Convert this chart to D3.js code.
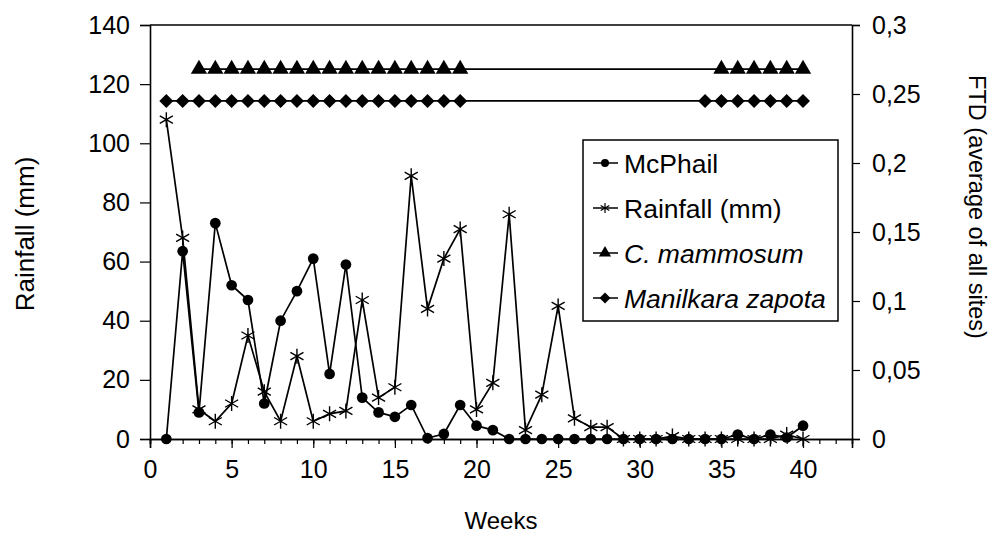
<!DOCTYPE html>
<html>
<head>
<meta charset="utf-8">
<script src="https://cdn.jsdelivr.net/npm/d3@7"></script>
<style>
  body { margin: 0; background: #fff; }
  text { font-family: "Liberation Sans", Arial, sans-serif; fill: #000; }
</style>
</head>
<body>
<svg class="chart" width="997" height="533"></svg>
<script>
// Weeks 1..40
var weeks = d3.range(1, 41);

// Rainfall (mm).
var rainfall = [108, 68, 10, 6, 12, 35, 16, 6, 28, 6,
                8.5, 9.5, 47, 14, 17.5, 89, 44, 61, 71, 10,
                19, 76, 3, 15, 45, 7, 4, 4, 0, 0,
                0, 1, 0, 0, 0, 0, 0, 0, 1.5, 0];

// McPhail trap counts (plotted on the left axis).
var mcphail = [0, 63.5, 9, 73, 52, 47, 12, 40, 50, 61,
               22, 59, 14, 9, 7.5, 11.5, 0.3, 1.7, 11.5, 4.5,
               3, 0, 0, 0, 0, 0, 0, 0, 0, 0,
               0, 0, 0, 0, 0, 1.5, 0, 1.5, 0.5, 4.5];

// FTD (right axis): weeks where each host was sampled.
var mammosumWeeks = d3.range(3, 20).concat(d3.range(35, 41));
var mammosumFTD = 0.268;
var zapotaWeeks = d3.range(1, 20).concat(d3.range(34, 41));
var zapotaFTD = 0.245;

var xTicks = [0, 5, 10, 15, 20, 25, 30, 35, 40];
var leftTicks = [0, 20, 40, 60, 80, 100, 120, 140];
var rightTicks = [0, 0.05, 0.1, 0.15, 0.2, 0.25, 0.3];

// Plot area, in pixels.
var plotLeft = 150, plotRight = 852, plotTop = 25, plotBottom = 439;
var tickFont = 25;

var svg = d3.select(".chart");

var x = d3.scaleLinear().domain([0, 43]).range([plotLeft, plotRight]);
var yL = d3.scaleLinear().domain([0, 140]).range([plotBottom, plotTop]);
var yR = d3.scaleLinear().domain([0, 0.3]).range([plotBottom, plotTop]);

// Frame: top border.
svg.append("line")
    .attr("x1", plotLeft).attr("x2", plotRight)
    .attr("y1", plotTop).attr("y2", plotTop)
    .attr("stroke", "#000").attr("stroke-width", 1.5);

// Left axis.
svg.append("g")
    .attr("transform", "translate(" + plotLeft + ",0)")
    .call(d3.axisLeft(yL).tickValues(leftTicks).tickSize(10).tickPadding(10));

// Right axis, with comma decimals.
svg.append("g")
    .attr("transform", "translate(" + plotRight + ",0)")
    .call(d3.axisRight(yR).tickValues(rightTicks).tickSize(8).tickPadding(12)
        .tickFormat(function(d) { return String(d).replace(".", ","); }));

// Bottom axis: minor ticks every week, labelled ticks every 5.
svg.append("g")
    .attr("transform", "translate(0," + plotBottom + ")")
    .call(d3.axisBottom(x).tickValues(d3.range(0, 43)).tickSize(5).tickFormat(""));
svg.append("g")
    .attr("transform", "translate(0," + plotBottom + ")")
    .call(d3.axisBottom(x).tickValues(xTicks).tickSize(9).tickPadding(12));

svg.selectAll(".domain").attr("stroke", "#000").attr("stroke-width", 1.6);
svg.selectAll(".tick line").attr("stroke", "#000").attr("stroke-width", 1.2);
svg.selectAll(".tick text").style("font-size", tickFont + "px")
    .style("font-family", "'Liberation Sans', Arial, sans-serif").attr("fill", "#000");

// Axis titles.
svg.append("text")
    .attr("transform", "translate(34,234) rotate(-90)")
    .attr("text-anchor", "middle")
    .style("font-size", "26px")
    .text("Rainfall (mm)");

svg.append("text")
    .attr("transform", "translate(969,207) rotate(90)")
    .attr("text-anchor", "middle")
    .style("font-size", "23.5px")
    .text("FTD (average of all sites)");

svg.append("text")
    .attr("x", (plotLeft + plotRight) / 2).attr("y", 529)
    .attr("text-anchor", "middle")
    .style("font-size", "24px")
    .text("Weeks");

// Marker shapes.
var symCircle = d3.symbol().type(d3.symbolCircle).size(90);
var symTriangle = d3.symbol().type(d3.symbolTriangle).size(115);
// Square diamond (Excel style), wider than d3's own.
function diamondPath(r) {
    return "M0," + (-r) + "L" + r + ",0L0," + r + "L" + (-r) + ",0Z";
}
function starPath(r) {
    var a = r * 0.87, b = r * 0.5;
    return "M0," + (-r) + "L0," + r +
           "M" + (-a) + "," + (-b) + "L" + a + "," + b +
           "M" + (-a) + "," + b + "L" + a + "," + (-b);
}

// Draws one series: a polyline plus markers.
function drawSeries(pts, marker, isStar) {
    var line = d3.line()
        .x(function(d) { return d[0]; })
        .y(function(d) { return d[1]; });
    svg.append("path")
        .attr("d", line(pts))
        .attr("fill", "none").attr("stroke", "#000").attr("stroke-width", 1.7);
    var m = svg.append("g").selectAll("path").data(pts).enter().append("path")
        .attr("transform", function(d) { return "translate(" + d[0] + "," + d[1] + ")"; });
    if (isStar) {
        m.attr("d", starPath(7.5)).attr("fill", "none").attr("stroke", "#000").attr("stroke-width", 1.4);
    } else {
        m.attr("d", marker).attr("fill", "#000");
    }
}

drawSeries(zapotaWeeks.map(function(w) { return [x(w), yR(zapotaFTD)]; }), diamondPath(7), false);
drawSeries(mammosumWeeks.map(function(w) { return [x(w), yR(mammosumFTD)]; }), symTriangle(), false);
drawSeries(weeks.map(function(w, i) { return [x(w), yL(rainfall[i])]; }), null, true);
drawSeries(weeks.map(function(w, i) { return [x(w), yL(mcphail[i])]; }), symCircle(), false);

// Legend.
var legendNames = ["McPhail", "Rainfall (mm)", "C. mammosum", "Manilkara zapota"];
var legendItalic = [false, false, true, true];
var legendMarks = [symCircle.size(50)(), null, symTriangle.size(65)(), diamondPath(5.5)];

svg.append("rect")
    .attr("x", 583).attr("y", 140).attr("width", 255).attr("height", 181)
    .attr("fill", "#fff").attr("stroke", "#000").attr("stroke-width", 1.5);

var item = svg.append("g").selectAll("g").data(legendNames).enter().append("g")
    .attr("transform", function(d, i) { return "translate(0," + (163 + i * 45) + ")"; });
item.append("line")
    .attr("x1", 593).attr("x2", 618).attr("y1", 0).attr("y2", 0)
    .attr("stroke", "#000").attr("stroke-width", 1.5);
item.append("path")
    .attr("transform", "translate(605,0)")
    .attr("d", function(d, i) { return legendMarks[i] || starPath(5); })
    .attr("fill", function(d, i) { return legendMarks[i] ? "#000" : "none"; })
    .attr("stroke", "#000").attr("stroke-width", function(d, i) { return legendMarks[i] ? 0 : 1.2; });
item.append("text")
    .attr("x", 624).attr("y", 0).attr("dy", "0.36em")
    .style("font-size", "26.5px")
    .style("font-style", function(d, i) { return legendItalic[i] ? "italic" : "normal"; })
    .text(function(d) { return d; });
</script>
</body>
</html>
